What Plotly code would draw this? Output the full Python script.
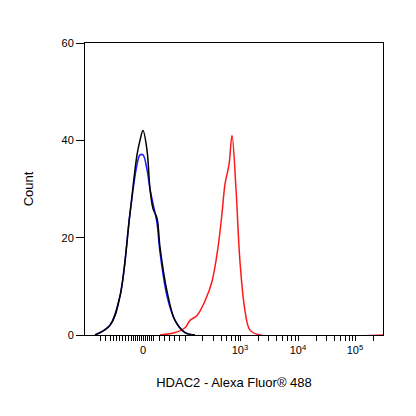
import plotly.graph_objects as go

# x in display-channel units (0..298 across the axis), y = Count
black_x = [10, 25, 35, 45, 52, 55, 58, 62, 65, 68, 72, 75, 82, 90, 100, 110]
black_y = [0, 2, 8, 25, 37, 40, 42, 38, 30, 26, 24, 18, 9, 3, 0.5, 0]
blue_x = [10, 25, 35, 45, 52, 55, 58, 62, 65, 68, 72, 75, 82, 90, 100, 110]
blue_y = [0, 2, 8, 25, 35, 37, 37, 34, 30, 27, 23, 17, 8, 3, 0.5, 0]
red_x = [75, 90, 100, 105, 112, 120, 127, 133, 137, 140, 144, 147, 151, 155, 160, 165, 175, 298]
red_y = [0, 0.5, 1.5, 3, 4, 7, 11, 18, 25, 31, 35, 41, 30, 15, 5, 1, 0, 0]
major_vals = [58, 155, 213, 270]
major_text = ["0", "10<sup>3</sup>", "10<sup>4</sup>", "10<sup>5</sup>"]
minor_vals = [15, 20, 25, 28, 31, 34, 37, 40, 43, 46, 48, 50, 52, 54, 56, 60, 62, 64, 66, 68,
              74, 79, 84, 89, 94, 100, 117, 128, 136, 141, 146, 150, 153,
              173, 183, 191, 197, 202, 206, 210, 231, 241, 249, 255, 260, 264, 267, 288]

fig = go.Figure()
for xs, ys, c in [(red_x, red_y, "#ff1a1a"), (blue_x, blue_y, "#1a1aff"), (black_x, black_y, "black")]:
    fig.add_trace(go.Scatter(x=xs, y=ys, mode="lines", line=dict(color=c, width=1.5, shape="spline"), showlegend=False))

fig.update_layout(
    width=400, height=400, margin=dict(l=77, r=25, t=35, b=73),
    plot_bgcolor="white", paper_bgcolor="white",
    font=dict(family="Liberation Sans, Arial", size=11, color="black"),
    xaxis=dict(range=[0, 298], showgrid=False, zeroline=False, showline=True, linecolor="black", mirror=True,
               automargin=False,
               tickvals=major_vals + minor_vals, ticktext=major_text + [""] * len(minor_vals),
               ticks="outside", ticklen=5, tickcolor="black", tickfont=dict(size=11),
               title=dict(text="HDAC2 - Alexa Fluor® 488", standoff=22)),
    yaxis=dict(range=[0, 60], showgrid=False, zeroline=False, showline=True, linecolor="black", mirror=True,
               automargin=False,
               tickvals=[0, 20, 40, 60], ticks="outside", ticklen=8, tickcolor="black",
               title=dict(text="Count", standoff=24)),
)
fig.write_html("out.html")
